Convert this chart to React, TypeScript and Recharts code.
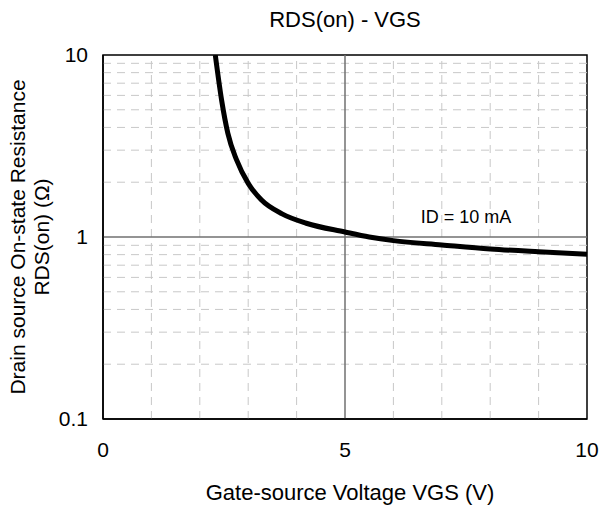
import React from "react";
import {
  LineChart,
  Line,
  XAxis,
  YAxis,
  ReferenceLine,
  ReferenceArea,
  ReferenceDot,
  Customized,
} from "recharts";

const vgs = [2.32, 2.45, 2.58, 2.76, 3.0, 3.27, 3.7, 4.2, 5.0, 5.5, 6.0, 7.0, 8.0, 9.0, 10.0];
const rdsOn = [10, 5.66, 3.71, 2.65, 1.97, 1.6, 1.34, 1.19, 1.065, 1.0, 0.955, 0.905, 0.86, 0.83, 0.805];

const xTicks = [0, 5, 10];
const yTicks = [0.1, 1, 10];
const xMinorGrid = [1, 2, 3, 4, 6, 7, 8, 9];
const yMinorGrid = [0.2, 0.3, 0.4, 0.5, 0.6, 0.7, 0.8, 0.9, 2, 3, 4, 5, 6, 7, 8, 9];
const xMajorGrid = [5];
const yMajorGrid = [1];

const title = "RDS(on) - VGS";
const xLabel = "Gate-source Voltage VGS (V)";
const yLabel1 = "Drain source On-state Resistance";
const yLabel2 = "RDS(on) (Ω)";
const annotation = "ID = 10 mA";

const data = vgs.map((v, i) => ({ vgs: v, r: rdsOn[i] }));

const FONT = "'Liberation Sans', Arial, sans-serif";
const TEXT_SIZE = 21;

const Titles = () => (
  <g fontFamily={FONT} fill="#000">
    <text x={345} y={19} textAnchor="middle" dominantBaseline="central" fontSize={22}>
      {title}
    </text>
    <text x={350} y={492} textAnchor="middle" dominantBaseline="central" fontSize={22}>
      {xLabel}
    </text>
    <text
      x={17}
      y={237}
      transform="rotate(-90 17 237)"
      textAnchor="middle"
      dominantBaseline="central"
      fontSize={TEXT_SIZE}
    >
      {yLabel1}
    </text>
    <text
      x={41}
      y={237}
      transform="rotate(-90 41 237)"
      textAnchor="middle"
      dominantBaseline="central"
      fontSize={TEXT_SIZE}
    >
      {yLabel2}
    </text>
  </g>
);

export default function App() {
  return (
    <div style={{ position: "absolute", left: 0, top: 0, background: "#fff" }}>
      <LineChart
        width={601}
        height={506}
        data={data}
        margin={{ top: 55, right: 14, bottom: 57, left: 0 }}
      >
        <XAxis
          dataKey="vgs"
          type="number"
          domain={[0, 10]}
          ticks={xTicks}
          tickLine={false}
          tickSize={0}
          tickMargin={23}
          axisLine={{ stroke: "#000", strokeWidth: 1.5 }}
          height={30}
          tick={{ fontSize: TEXT_SIZE, fill: "#000", fontFamily: FONT }}
        />
        <YAxis
          dataKey="r"
          type="number"
          scale="log"
          domain={[0.1, 10]}
          allowDataOverflow
          ticks={yTicks}
          tickFormatter={(v: number) => String(v)}
          tickLine={false}
          tickSize={0}
          tickMargin={15}
          axisLine={{ stroke: "#000", strokeWidth: 1.5 }}
          width={103}
          tick={{ fontSize: TEXT_SIZE, fill: "#000", fontFamily: FONT }}
        />
        {xMinorGrid.map((x) => (
          <ReferenceLine key={"xm" + x} x={x} stroke="#c8c8c8" strokeDasharray="8 6" strokeWidth={1} />
        ))}
        {yMinorGrid.map((y) => (
          <ReferenceLine key={"ym" + y} y={y} stroke="#c8c8c8" strokeDasharray="8 6" strokeWidth={1} />
        ))}
        {xMajorGrid.map((x) => (
          <ReferenceLine key={"xM" + x} x={x} stroke="#707070" strokeWidth={1.5} />
        ))}
        {yMajorGrid.map((y) => (
          <ReferenceLine key={"yM" + y} y={y} stroke="#707070" strokeWidth={1.5} />
        ))}
        <ReferenceArea
          x1={0}
          x2={10}
          y1={0.1}
          y2={10}
          fill="none"
          fillOpacity={0}
          stroke="#000"
          strokeWidth={1.5}
        />
        <Line
          dataKey="r"
          type="monotone"
          stroke="#000"
          strokeWidth={5}
          dot={false}
          isAnimationActive={false}
        />
        <ReferenceDot
          x={7.5}
          y={1.3}
          r={0}
          fill="none"
          stroke="none"
          label={{ value: annotation, position: "center", fontSize: 18, fill: "#000", fontFamily: FONT }}
        />
        <Customized component={Titles} />
      </LineChart>
    </div>
  );
}
